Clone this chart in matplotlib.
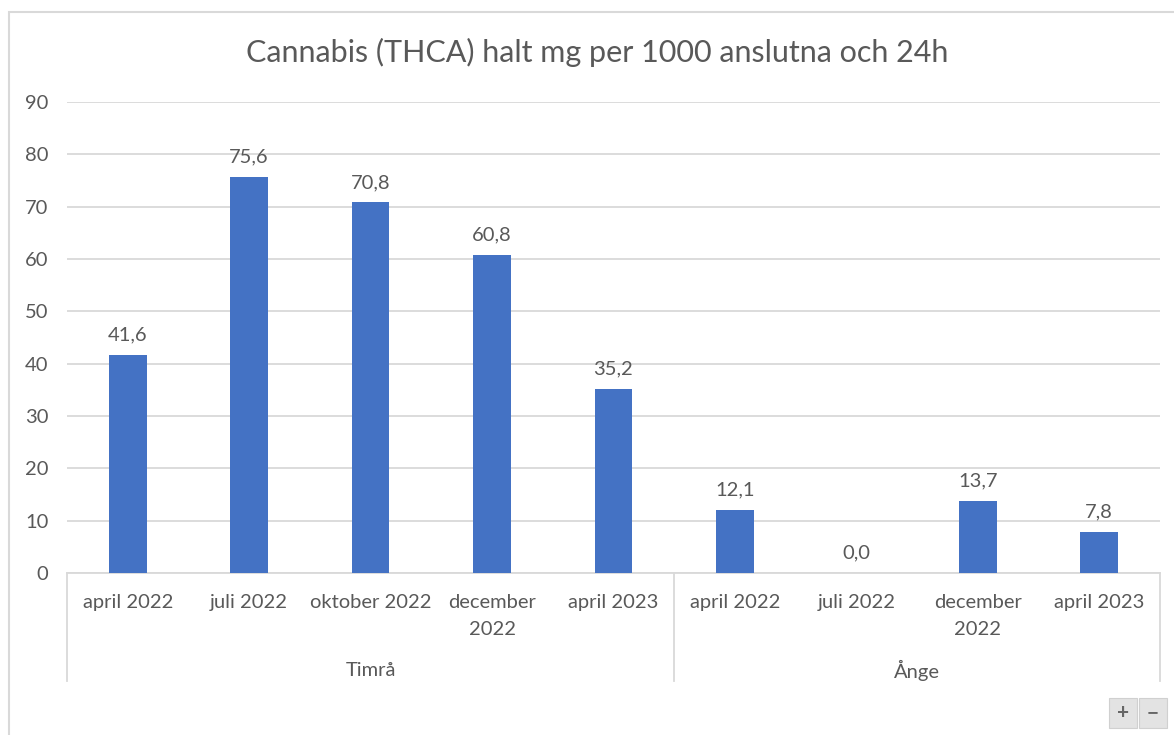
import matplotlib.pyplot as plt
from matplotlib.patches import Rectangle
import numpy as np

plt.rcParams['font.family'] = ['Lato', 'DejaVu Sans']

title = 'Cannabis (THCA) halt mg per 1000 anslutna och 24h'
months = ['april 2022', 'juli 2022', 'oktober 2022', 'december\n2022', 'april 2023',
          'april 2022', 'juli 2022', 'december\n2022', 'april 2023']
groups = ['Timrå', 'Ånge']
group_sizes = [5, 4]
values = [41.6, 75.6, 70.8, 60.8, 35.2, 12.1, 0.0, 13.7, 7.8]

W, H = 1174, 735
txt = '#595959'
grid = '#d9d9d9'
blue = '#4472c4'
fs = 14.5

fig = plt.figure(figsize=(W / 100, H / 100), dpi=100)

# outer chart border (cut off on right and bottom in the screenshot)
fig.patches.append(Rectangle((9 / W, -0.1), 1.2, 1 - 12 / H + 0.1, transform=fig.transFigure,
                             fill=False, edgecolor=grid, linewidth=1.5))

ax = fig.add_axes([67 / W, 1 - 573 / H, (1160 - 67) / W, (573 - 102) / H])
x = np.arange(len(values))
ax.bar(x, values, width=0.31, color=blue, zorder=3)
for xi, v in zip(x, values):
    ax.text(xi, v + 2.2, f'{v:.1f}'.replace('.', ','), ha='center', va='bottom',
            fontsize=fs, color=txt)

ax.set_xlim(-0.5, len(values) - 0.5)
ax.set_ylim(0, 90)
ax.set_yticks(range(0, 91, 10))
ax.yaxis.grid(True, color=grid, linewidth=1.3, zorder=0)
for s in ['top', 'right', 'left']:
    ax.spines[s].set_visible(False)
ax.spines['bottom'].set_color(grid)
ax.spines['bottom'].set_linewidth(1.3)
ax.tick_params(axis='y', length=0, pad=13.5, labelsize=fs, labelcolor=txt)
ax.set_xticks(x)
ax.set_xticklabels(months, fontsize=fs, color=txt, va='top', linespacing=1.75)
ax.tick_params(axis='x', length=0, pad=15)

# group separators and group labels
bounds = np.concatenate([[0], np.cumsum(group_sizes)]) - 0.5
for b in bounds:
    ax.plot([b, b], [0, -20.6], color=grid, linewidth=1.3, clip_on=False,
            transform=ax.transData)
for g, a, b in zip(groups, bounds[:-1], bounds[1:]):
    ax.text((a + b) / 2, -18.6, g, ha='center', va='center', fontsize=fs, color=txt)

fig.text(597 / W, 1 - 52 / H, title, ha='center', va='center',
         fontsize=22, color=txt)

# zoom buttons in the bottom-right corner
for i, sym in enumerate(['+', '−']):
    x0 = 1109 + i * 30
    fig.patches.append(Rectangle((x0 / W, 1 - 728 / H), 28 / W, 30 / H,
                                 transform=fig.transFigure, facecolor='#e3e3e3',
                                 edgecolor='#d0d0d0', linewidth=0.8))
    fig.text((x0 + 14) / W, 1 - 713 / H, sym, ha='center', va='center',
             fontsize=15, fontweight='bold', color='#666666')

fig.savefig('out.png', dpi=100)
